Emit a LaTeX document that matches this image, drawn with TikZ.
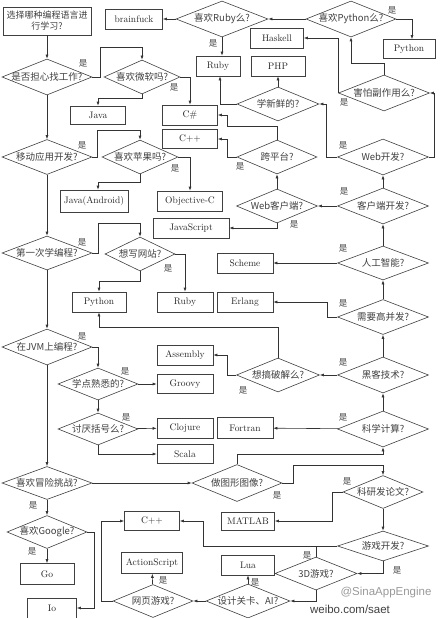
\documentclass[tikz,border=0pt]{standalone}
\usepackage{fontspec}
\usetikzlibrary{shapes.geometric,arrows.meta}
\newfontfamily\cjk{Noto Sans CJK SC}
\newfontfamily\wmfont{Liberation Sans}
\begin{document}
\begin{tikzpicture}[
    x=1pt, y=-1pt,
    every node/.style={inner sep=0pt},
    lang/.style={rectangle, draw=black!75, line width=0.6pt, minimum height=20pt, minimum width=56pt, text=black!85, font=\fontsize{9.5}{10}\selectfont},
    ask/.style={diamond, draw=black!75, line width=0.6pt, minimum width=90pt, minimum height=35pt, text=black!75, font=\cjk\fontsize{9.5}{11}\selectfont,
        execute at begin node={\hbox to 0pt\bgroup\hss}, execute at end node={\hss\egroup}},
    yes/.style={text=black!75, font=\cjk\fontsize{8.5}{10}\selectfont},
    arrow/.style={-{Latex[length=4pt,width=3pt]}, draw=black!80, line width=0.6pt},
    link/.style={draw=black!80, line width=0.6pt},
    wmark/.style={font=\wmfont\fontsize{11.5}{12}\selectfont}
]
\useasboundingbox (0,0) rectangle (440,618);

% Left column
\node[lang, minimum width=88pt, minimum height=28pt, align=center, text=black!75, font=\cjk\fontsize{9}{11}\selectfont] (start) at (47,21) {选择哪种编程语言进\\行学习?};
\node[ask, minimum height=36pt] (job) at (47,77) {是否担心找工作?};
\node[ask, minimum width=76pt, minimum height=34pt] (ms) at (142,77) {喜欢微软吗?};
\node[lang, minimum width=55pt, minimum height=18pt] (java) at (98,115) {Java};
\node[ask] (mobile) at (47,157) {移动应用开发?};
\node[ask, minimum width=76pt, minimum height=34pt] (apple) at (140,157) {喜欢苹果吗?};
\node[lang, minimum width=68pt, minimum height=22pt] (android) at (94,201) {Java(Android)};
\node[ask, minimum height=34pt] (first) at (47,253) {第一次学编程?};
\node[ask, minimum width=70pt, minimum height=34pt] (site) at (140,254) {想写网站?};
\node[lang, minimum width=54pt] (pylow) at (99,302) {Python};
\node[lang] (rblow) at (185,302) {Ruby};
\node[ask, minimum height=36pt] (jvm) at (47,347) {在JVM上编程?};
\node[ask, minimum width=80pt, minimum height=32pt] (familiar) at (98,384) {学点熟悉的?};
\node[ask, minimum width=80pt, minimum height=32pt] (paren) at (98,429) {讨厌括号么?};
\node[lang, minimum height=19pt] (groovy) at (185,384) {Groovy};
\node[lang] (clojure) at (185,428) {Clojure};
\node[lang, minimum height=19pt] (scala) at (185,454) {Scala};
\node[ask, minimum height=33pt] (adventure) at (47,483) {喜欢冒险挑战?};
\node[ask, minimum width=80pt, minimum height=33pt] (google) at (47,532) {喜欢Google?};
\node[lang, minimum width=54pt, minimum height=21pt] (go) at (47,574) {Go};
\node[lang, minimum width=49pt] (io) at (52,608) {Io};

% Middle column
\node[lang, minimum width=57pt] (brainfuck) at (134,19) {brainfuck};
\node[lang, minimum width=55pt] (csharp) at (190,115) {C\#};
\node[lang, minimum width=55pt, minimum height=19pt] (cpp) at (190,139) {C++};
\node[lang, minimum width=65pt] (objc) at (190,201) {Objective-C};
\node[lang, minimum width=76pt] (js) at (191,228) {JavaScript};
\node[lang] (assembly) at (185,355) {Assembly};
\node[lang, minimum width=55pt, minimum height=19pt] (cpplow) at (152,521) {C++};
\node[lang, minimum width=61pt, minimum height=21pt] (actionscript) at (152,563) {ActionScript};
\node[ask, minimum width=80pt, minimum height=33pt] (webgame) at (153,601) {网页游戏?};

% Right part
\node[ask, minimum width=92pt, minimum height=36pt] (rubyq) at (222,19) {喜欢Ruby么?};
\node[ask, minimum height=36pt] (pythonq) at (351,19) {喜欢Python么?};
\node[lang, minimum width=52pt, minimum height=19pt] (pytop) at (409,49) {Python};
\node[lang, minimum width=53pt] (haskell) at (277,38) {Haskell};
\node[lang, minimum width=44pt] (rbtop) at (218,66) {Ruby};
\node[lang, minimum width=54pt] (php) at (278,66) {PHP};
\node[ask, minimum width=91pt, minimum height=36pt] (side) at (384,93) {害怕副作用么?};
\node[ask, minimum width=82pt, minimum height=34pt] (fresh) at (278,104) {学新鲜的?};
\node[ask, minimum width=91pt, minimum height=36pt] (web) at (383,157) {Web开发?};
\node[ask, minimum width=80pt, minimum height=34pt] (cross) at (277,157) {跨平台?};
\node[ask, minimum width=81pt, minimum height=34pt] (webclient) at (277,206) {Web客户端?};
\node[ask, minimum width=91pt, minimum height=36pt] (client) at (383,206) {客户端开发?};
\node[ask, minimum width=91pt, minimum height=34pt] (ai) at (383,263) {人工智能?};
\node[lang] (scheme) at (245,263) {Scheme};
\node[lang] (erlang) at (245,302) {Erlang};
\node[ask, minimum width=91pt] (concur) at (383,317) {需要高并发?};
\node[ask, minimum width=91pt, minimum height=36pt] (hacker) at (383,375) {黑客技术?};
\node[ask, minimum width=83pt, minimum height=34pt] (crack) at (278,375) {想搞破解么?};
\node[ask, minimum width=91pt, minimum height=36pt] (science) at (383,429) {科学计算?};
\node[lang, minimum height=21pt] (fortran) at (245,428) {Fortran};
\node[ask, minimum height=37pt] (graphics) at (237,483) {做图形图像?};
\node[ask, minimum width=80pt, minimum height=33pt] (paper) at (383,492) {科研发论文?};
\node[lang, minimum width=53pt, minimum height=18pt] (matlab) at (248,521) {MATLAB};
\node[ask, minimum width=91pt, minimum height=30pt] (game) at (383,546) {游戏开发?};
\node[ask, minimum width=82pt, minimum height=33pt] (threed) at (316,573.5) {3D游戏?};
\node[lang, minimum width=53pt] (lua) at (248,565) {Lua};
\node[ask, minimum width=84pt, minimum height=34pt] (level) at (248,601) {设计关卡、AI?};

% Arrows, left column
\draw[arrow] (start) -- (job);
\draw[arrow] (job.east) -- ++(8,0) |- (142,47) -- (ms.north);
\draw[arrow] (ms.east) -| (csharp.north);
\draw[arrow] (ms.south) -- ++(0,4) -| (java.north);
\draw[arrow] (job) -- (mobile);
\draw[arrow] (mobile.east) -- ++(5,0) |- (140,130) -- (apple.north);
\draw[arrow] (apple.east) -| (objc.north);
\draw[arrow] (apple.south) -- ++(0,8) -| ([xshift=4pt]android.north);
\draw[arrow] (mobile) -- (first);
\draw[arrow] (first.east) -- ++(6,0) |- (140,223) -- (site.north);
\draw[arrow] (site.east) -| (rblow.north);
\draw[arrow] (site.south) -- ++(0,10) -| (pylow.north);
\draw[arrow] (first) -- (jvm);
\draw[arrow] (jvm.east) -| (familiar.north);
\draw[arrow] (familiar) -- (groovy);
\draw[arrow] (familiar) -- (paren);
\draw[arrow] (paren) -- (clojure);
\draw[arrow] (paren.south) |- (scala.west);
\draw[arrow] (jvm) -- (adventure);
\draw[arrow] (adventure) -- (graphics);
\draw[arrow] (adventure) -- (google);
\draw[arrow] (google) -- (go);
\draw[arrow] (google.east) -- ++(7,0) |- (io.east);

% Arrows, right part
\draw[arrow] (rubyq) -- (brainfuck);
\draw[arrow] (rubyq.south) -- (rubyq.south |- rbtop.north);
\draw[arrow] (pythonq) -- (rubyq);
\draw[arrow] (pythonq.east) -| ([xshift=3pt]pytop.north);
\draw[arrow] (side.north) -- ++(0,-11) -| (pythonq.south);
\draw[arrow] (side.west) |- (haskell.east);
\draw[arrow] (web.east) -- ++(5,0) |- (side.east);
\draw[arrow] (web.west) -- ++(-11,0) |- (fresh.east);
\draw[arrow] (fresh) -- (php);
\draw[arrow] (fresh.west) -| ([xshift=2pt]rbtop.south);
\draw[arrow] (cross.north) |- (227,126) |- (csharp.east);
\draw[arrow] (cross.west) -- (227,157) |- (cpp.east);
\draw[arrow] (webclient) -- (cross);
\draw[arrow] (webclient.south) |- (js.east);
\draw[arrow] (client) -- (webclient);
\draw[arrow] (client) -- (web);
\draw[arrow] (ai) -- (client);
\draw[arrow] (ai) -- (scheme);
\draw[arrow] (concur) -- (ai);
\draw[arrow] (concur.west) -- (327,317) |- (erlang.east);
\draw[arrow] (hacker) -- (concur);
\draw[arrow] (hacker) -- (crack);
\draw[arrow] (crack.north) -- ++(0,-30) -| (pylow.south);
\draw[arrow] (crack.west) -- (227,375) |- (assembly.east);
\draw[arrow] (science) -- (hacker);
\draw[arrow] (science) -- (fortran);
\draw[arrow] (graphics.north) -- ++(0,-10) -| (science.south);
\draw[arrow] (graphics.east) -- ++(11,0) |- ([yshift=10pt]paper.north) -- (paper.north);
\draw[arrow] (paper.west) -- (332,492) |- (matlab.east);
\draw[arrow] (paper) -- (game);
\draw[arrow] (game.west) -- (203,546) |- (cpplow.east);
\draw[link] (threed.north) -- (threed.north |- game.west);
\draw[arrow] (game.south) |- (threed.east);
\draw[arrow] (threed.south) |- (level.east);
\draw[arrow] (level) -- (lua);
\draw[arrow] (level) -- (webgame);
\draw[arrow] (webgame) -- (actionscript);
\draw[arrow] (webgame.west) -- ++(-11,0) |- (cpplow.west);

% Yes labels
\node[yes] (yjob) at (83,63) {是};
\node[yes] (yms) at (174,87) {是};
\node[yes] (ymobile) at (82,145) {是};
\node[yes] (yapple) at (175,168) {是};
\node[yes] (yfirst) at (82,242) {是};
\node[yes] (ysite) at (168,268) {是};
\node[yes] (yjvm) at (82,336) {是};
\node[yes] (yfamiliar) at (125,371) {是};
\node[yes] (yparen) at (126,417) {是};
\node[yes] (yadventure) at (33,505) {是};
\node[yes] (ygoogle) at (32,551) {是};
\node[yes] (yrubyq) at (213,43) {是};
\node[yes] (ypythonq) at (392,10) {是};
\node[yes] (yside) at (344,102) {是};
\node[yes] (yweb) at (343,145) {是};
\node[yes] (ycross) at (240,166) {是};
\node[yes] (ywebclient) at (294,224) {是};
\node[yes] (yclient) at (344,191) {是};
\node[yes] (yai) at (343,248) {是};
\node[yes] (yconcur) at (343,303) {是};
\node[yes] (yhacker) at (343,362) {是};
\node[yes] (ycrack) at (243,390) {是};
\node[yes] (yscience) at (343,417) {是};
\node[yes] (ygraphics) at (277,495) {是};
\node[yes] (ypaper) at (347,481) {是};
\node[yes] (ythreed) at (307,555) {是};
\node[yes] (ygame) at (397,570) {是};
\node[yes] (ylevel) at (255,582) {是};
\node[yes] (ywebgame) at (163,580) {是};

% Watermark
\node[wmark, text=black!40] (wmname) at (386,593) {@SinaAppEngine};
\node[wmark, text=black!75] (wmurl) at (350,609) {weibo.com/saet};
\end{tikzpicture}
\end{document}
